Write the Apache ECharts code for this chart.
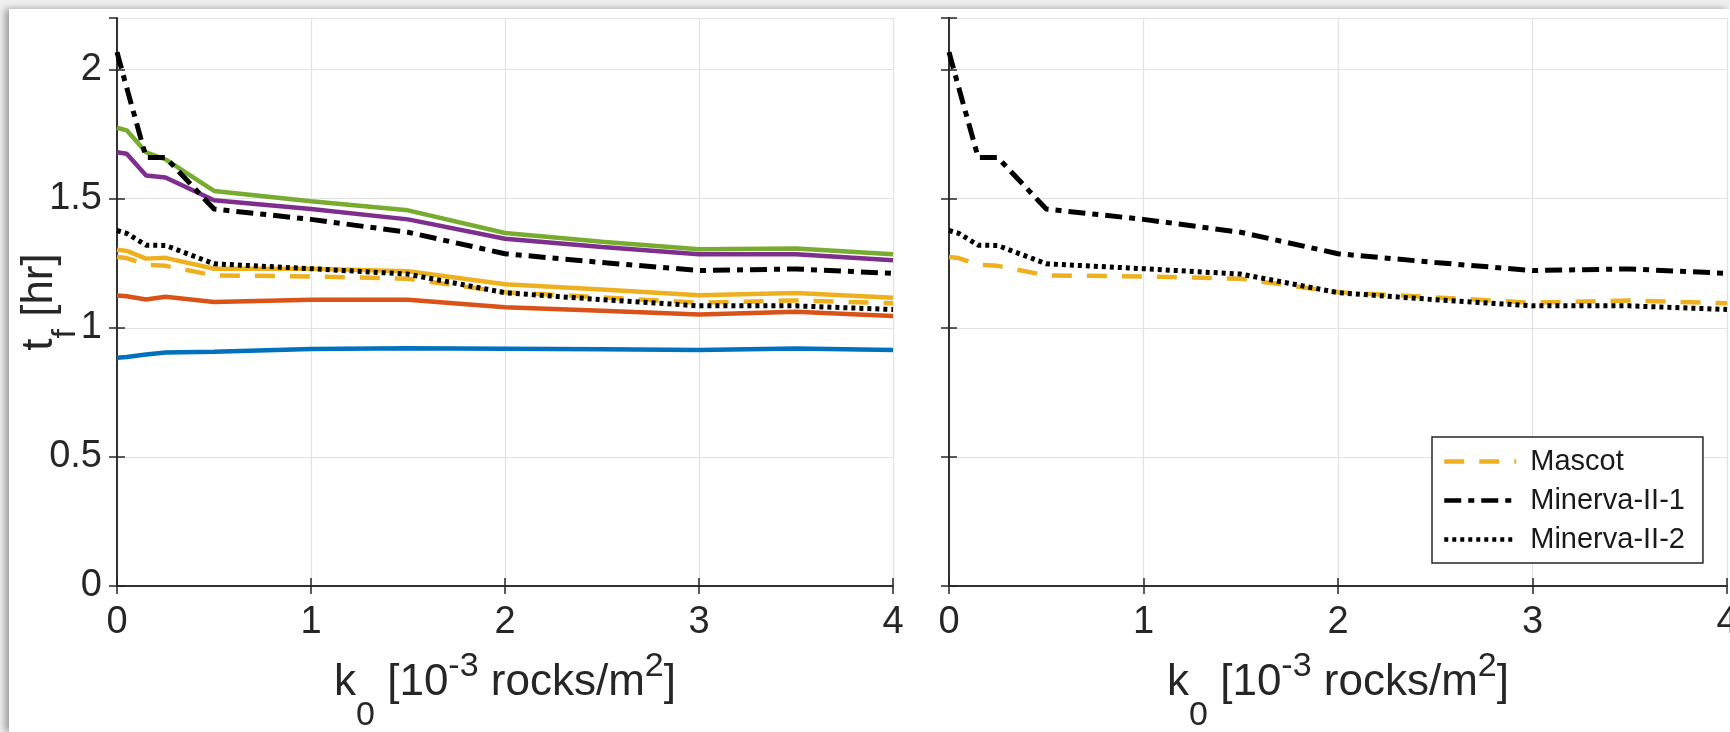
<!DOCTYPE html>
<html>
<head>
<meta charset="utf-8">
<script src="https://cdn.jsdelivr.net/npm/echarts@6/dist/echarts.min.js"></script>
<style>
  html, body { margin: 0; padding: 0; background: #efefef; overflow: hidden; }
  #frame { position: absolute; left: 9px; top: 9px; width: 1721px; height: 723px; background: #fff;
           box-shadow: -4px 0 7px rgba(0, 0, 0, 0.35); }
  #chart { position: absolute; left: 0; top: 0; width: 1730px; height: 732px; }
</style>
</head>
<body>
<div id="frame"></div>
<div id="chart"></div>
<script>
// k0 in 10^-3 rocks/m^2, t_f in hours
const k0 = [0, 0.05, 0.15, 0.25, 0.5, 1, 1.5, 2, 2.5, 3, 3.5, 4];
const blueLine   = [0.884, 0.887, 0.897, 0.904, 0.907, 0.918, 0.921, 0.919, 0.917, 0.914, 0.920, 0.914];
const redLine    = [1.125, 1.122, 1.110, 1.120, 1.100, 1.109, 1.109, 1.080, 1.066, 1.052, 1.062, 1.046];
const yellowLine = [1.302, 1.298, 1.268, 1.271, 1.229, 1.229, 1.219, 1.169, 1.148, 1.126, 1.135, 1.116];
const purpleLine = [1.680, 1.674, 1.590, 1.582, 1.494, 1.460, 1.420, 1.345, 1.313, 1.285, 1.285, 1.262];
const greenLine  = [1.775, 1.765, 1.680, 1.652, 1.530, 1.490, 1.455, 1.367, 1.333, 1.304, 1.307, 1.285];
const mascot     = [1.274, 1.270, 1.244, 1.240, 1.203, 1.199, 1.190, 1.138, 1.118, 1.097, 1.106, 1.095];
const minerva1   = [2.068, 1.930, 1.660, 1.660, 1.460, 1.420, 1.370, 1.287, 1.253, 1.222, 1.228, 1.211];
const minerva2   = [1.377, 1.366, 1.320, 1.319, 1.248, 1.229, 1.208, 1.136, 1.109, 1.085, 1.085, 1.071];
const xTicks = [0, 1, 2, 3, 4];
const yTicks = [0, 0.5, 1, 1.5, 2];

const FONT = '"Liberation Sans", Arial, Helvetica, sans-serif';
const INK = '#262626';

const chart = echarts.init(document.getElementById('chart'));

// rich text for axis titles (sub/superscripts shifted with padding)
const xTitleRich = {
  a:   { fontSize: 44, lineHeight: 46, color: INK, fontFamily: FONT, verticalAlign: 'middle' },
  sup: { fontSize: 34, lineHeight: 36, color: INK, fontFamily: FONT, verticalAlign: 'middle', padding: [0, 0, 32, 0] },
  sub: { fontSize: 34, lineHeight: 36, color: INK, fontFamily: FONT, verticalAlign: 'middle', padding: [66, 0, 0, 0] }
};
const yTitleRich = {
  a:   { fontSize: 44, lineHeight: 46, color: INK, fontFamily: FONT, verticalAlign: 'middle' },
  sub: { fontSize: 34, lineHeight: 36, color: INK, fontFamily: FONT, verticalAlign: 'middle', padding: [52, 0, 0, 0] }
};

function toPairs(vals) {
  return k0.map((x, i) => [x, vals[i]]);
}

function line(name, vals, color, width, type, axisIdx) {
  return {
    name: name,
    type: 'line',
    xAxisIndex: axisIdx,
    yAxisIndex: axisIdx,
    data: toPairs(vals),
    symbol: 'none',
    animation: false,
    lineStyle: { color: color, width: width, type: type },
    itemStyle: { color: color }
  };
}

function bottomAxis(grid) {
  return {
    gridIndex: grid, type: 'value', min: 0, max: 4, interval: 1, position: 'bottom',
    axisLine: { show: true, lineStyle: { color: INK, width: 1.5 } },
    axisTick: { show: true, inside: true, length: 8, lineStyle: { color: INK, width: 1.5 } },
    axisLabel: { fontSize: 38, color: INK, fontFamily: FONT, margin: 18,
                 formatter: v => xTicks.indexOf(v) >= 0 ? String(v) : '' },
    splitLine: { show: true, lineStyle: { color: '#e2e2e2', width: 1.2 } },
    name: '{a|k}{sub|0}{a| [10}{sup|-3}{a| rocks/m}{sup|2}{a|]}',
    nameLocation: 'middle', nameGap: 74, nameMoveOverlap: false,
    nameTextStyle: { rich: xTitleRich, verticalAlign: 'top' }
  };
}

function topAxis(grid) {
  return {
    gridIndex: grid, type: 'value', min: 0, max: 4, interval: 1, position: 'top',
    axisLine: { show: true, lineStyle: { color: INK, width: 1.5 } },
    axisTick: { show: true, inside: true, length: 8, lineStyle: { color: INK, width: 1.5 } },
    axisLabel: { show: false }, splitLine: { show: false }
  };
}

function leftAxis(grid, labels) {
  const ax = {
    gridIndex: grid, type: 'value', min: 0, max: 2.2, interval: 0.5, position: 'left',
    axisLine: { show: true, lineStyle: { color: INK, width: 1.5 } },
    axisTick: { show: true, inside: true, length: 8, lineStyle: { color: INK, width: 1.5 } },
    axisLabel: { show: labels, fontSize: 38, color: INK, fontFamily: FONT, margin: 15,
                 showMaxLabel: false,
                 formatter: v => yTicks.indexOf(v) >= 0 ? String(v) : '' },
    splitLine: { show: true, lineStyle: { color: '#e2e2e2', width: 1.2 } }
  };
  if (labels) {
    ax.name = '{a|t}{sub|f}{a| [hr]}';
    ax.nameLocation = 'middle';
    ax.nameGap = 54;
    ax.nameMoveOverlap = false;
    ax.nameTextStyle = { rich: yTitleRich, verticalAlign: 'bottom' };
  }
  return ax;
}

function rightAxis(grid) {
  return {
    gridIndex: grid, type: 'value', min: 0, max: 2.2, interval: 0.5, position: 'right',
    axisLine: { show: true, lineStyle: { color: INK, width: 1.5 } },
    axisTick: { show: true, inside: true, length: 8, lineStyle: { color: INK, width: 1.5 } },
    axisLabel: { show: false }, splitLine: { show: false }
  };
}

const dashMascot = [20, 15];
const dashM1 = [17, 7, 6, 7];
const dotM2 = [4, 4];

const option = {
  backgroundColor: 'transparent',
  grid: [
    { left: 117, top: 18, width: 776, height: 568, outerBoundsMode: 'none', containLabel: false },
    { left: 949, top: 18, width: 778, height: 568, outerBoundsMode: 'none', containLabel: false }
  ],
  xAxis: [bottomAxis(0), topAxis(0), bottomAxis(1), topAxis(1)],
  yAxis: [leftAxis(0, true), rightAxis(0), leftAxis(1, false), rightAxis(1)],
  legend: {
    data: ['Mascot', 'Minerva-II-1', 'Minerva-II-2'],
    orient: 'vertical',
    left: 1432, top: 437,
    itemWidth: 72, itemHeight: 28, itemGap: 10,
    padding: [10, 18, 9, 10],
    backgroundColor: '#fff',
    borderColor: INK, borderWidth: 1.5, borderRadius: 0,
    itemStyle: { opacity: 0 },
    lineStyle: { width: 4.5 },
    textStyle: { fontSize: 29, color: '#1a1a1a', fontFamily: FONT, padding: [0, 0, 0, 9] }
  },
  series: [
    line('blue', blueLine, '#0072BD', 4.5, 'solid', 0),
    line('red', redLine, '#D95319', 4.5, 'solid', 0),
    line('yellow', yellowLine, '#EDB120', 4.5, 'solid', 0),
    line('purple', purpleLine, '#7E2F8E', 4.5, 'solid', 0),
    line('green', greenLine, '#77AC30', 4.5, 'solid', 0),
    line('Mascot', mascot, '#EDB120', 4.5, dashMascot, 0),
    line('Minerva-II-1', minerva1, '#000000', 5, dashM1, 0),
    line('Minerva-II-2', minerva2, '#000000', 5, dotM2, 0),
    line('Mascot', mascot, '#EDB120', 4.5, dashMascot, 2),
    line('Minerva-II-1', minerva1, '#000000', 5, dashM1, 2),
    line('Minerva-II-2', minerva2, '#000000', 5, dotM2, 2)
  ]
};

chart.setOption(option);
</script>
</body>
</html>
